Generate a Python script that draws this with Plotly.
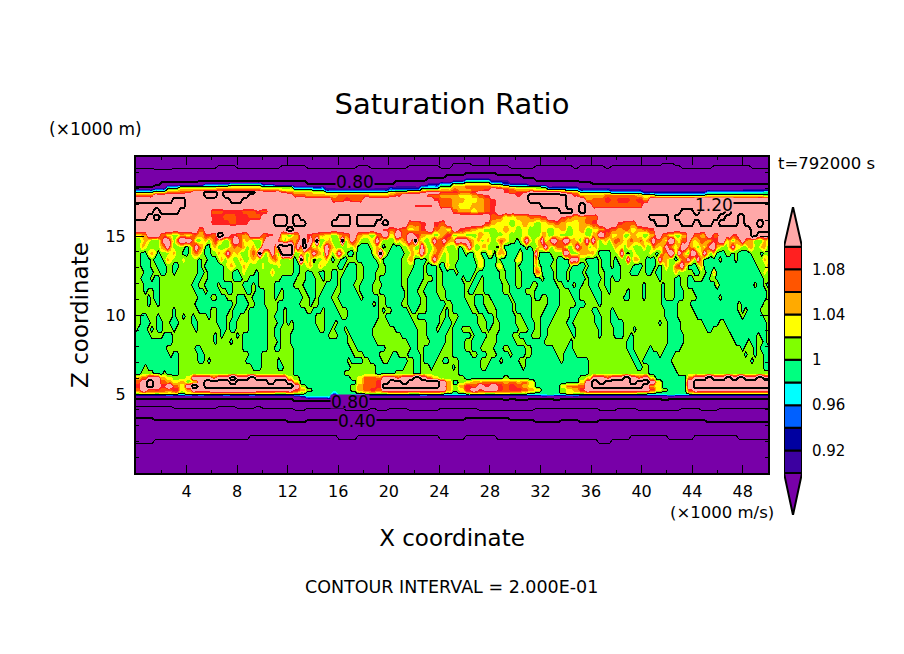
import numpy as np
import plotly.graph_objects as go

# Saturation ratio, coded one letter per grid cell
CODE_VALUES = {
    "a": 0.05, "b": 0.10, "c": 0.15, "d": 0.20, "e": 0.25, "f": 0.30, "g": 0.35, "h": 0.40, "i": 0.45,
    "j": 0.50, "k": 0.55, "l": 0.60, "m": 0.65, "n": 0.70, "o": 0.75, "p": 0.80, "q": 0.85,
    "P": 0.88, "I": 0.91, "N": 0.93, "B": 0.95, "C": 0.97, "G": 0.99, "L": 1.01, "Y": 1.03,
    "O": 1.05, "R": 1.07, "S": 1.09, "K": 1.14, "W": 1.25,
}

x_km = np.linspace(0, 50, 200)

z_km = [20.0, 19.6, 19.3, 19.0, 18.7, 18.5, 18.3, 18.1, 17.9, 17.75, 17.55, 17.3, 16.9, 16.55, 16.2, 15.8,
        15.4, 15.05, 14.7, 14.3, 13.9, 13.5, 13.1, 12.7, 12.3, 11.9, 11.5, 11.1, 10.7, 10.3, 9.9, 9.5,
        9.1, 8.7, 8.3, 7.9, 7.5, 7.1, 6.7, 6.3, 6.0, 5.75, 5.5, 5.25, 5.05, 4.95, 4.8, 4.6,
        4.4, 4.1, 3.75, 3.35, 2.9, 2.1, 1.35, 0.0]

# z 20 to 15.05, 100 cells across
upper_rows = [
    "jjjjjjjjjj jjjjjjjjjj jjjjjjjjjj jjjjjjjjjj jjjjjjjjjj jjjjjjjjjj jjjjjjjjjj jjjjjjjjjj jjjjjjjjjj jjjjjjjjjj",
    "kkkkkkkkkk kkkkkkkkkk kkkkkkkkkk kkkkkkkkkk kkkkkkkkkk lllkkkkkkk kkkkkkkkkk kkkkkkkkkk kkkllkkkkk kkkkkkkkkk",
    "lllkkkllll lllmmmllll lllmmmmlll lllllmmlll lllmmmmmll mmmmmmmmml lllmmmmmml mmmmlmmmmm mmmmmmllll lmmmmmmlll",
    "nnnnnnnnnn nnnnnnnnnn nnnnnnnnnn nnnnnnnnnn nnnnnnnnoo oopppppooo oooonnnnnn nnnnnnnnnn nnnnnnnnnn nnnnnnnnnn",
    "oooooooooo oooooooooo oooooooooo oooooooooo oooooppppq qqPPPPPqqq qppppppooo oooooooooo oooooooooo oooooooooo",
    "oooooooooo pppppppppp pppppppppo oooooooooo opppppqqqq IICCCCIIIq qqqppppppp oooooooooo oooooooooo oooooooooo",
    "ooooqqqqqq qNNNNCCCCC IIqqqqqppp pppppppppp pqqqqqIICC LLYYYYGGNI IIqqqqqqqq qqpppppppp pppppppppp pppppppppp",
    "pppqqCCLLL LLLYYYYYYY LLLLLNNNNN PPPPPPPPPP IIIIICCCLL OORRRRROOY LLLLGIIIII PPPPPPPPPP qqqqqqqqqq qqqqqqqqqq",
    "NNNCCYYOOO RRRRRRRRRR OOOYYLLLGG NNNNNNNNNN CCCCCYYYOO ROORRSKKSR OOOYYLLLGG NNNNNIIIII PPPPPPPPPP IIIIIINNNN",
    "LLLYYRRRSK KWWKWWWWWK KKKSROOOYY LLLLLLLLLL YOORRSKKSS SRRSKKKKSR SSKKKKKSRO LLLLLCCCCC NNNNNNNNNN CCCCCCCCCG",
    "RRRKKKKKKK KWWKWWWWKK KKKKKRROOO OORRRRROOO RSKKKKRROO OYYORSKKKK SKWWWWWWKS OOOORRRRRO YYLLLLLLLL YYYYYYYYYL",
    "KKKKKKWWKK KKKKKWWKKK KKKKKKKKKK KRRSRRKKKK KKKKKKKSRR OOYYORSKKK KKWWWWWWKK KORRSRSSRS OKKKKKKKKK KKKKKKKKKK",
    "WWWWWWWWKK KKKKKKKKKK KKKKKKKKKK KKKKKKKKKK KKKKSSSKRR OYYOORSKKK KKKKWWWWKK WKRRRRRRRR KKKKKKKKKW WWKWWWWWWW",
    "WWWKWWWKKK KKRRSSSRRS RKKKKKKKKK KKKKKKKKKK KKKKKKKKKK ROOYORSKKK KKKKKKKWWK WKKKKKKKKK KKKKKKWWKW WWWKWWWWWW",
    "WWKWKKKKKK KKSSRRSSRR KKWWKWKKKK KKWWKWWWWK KKKKKKKKKK KKKKKKRRYY OORRSKKSRO ORRKKKKKKK KWWWKWWWWW WWKWWKWWWW",
    "KKKKKKKKKK KKSSSRSSKK KKWWKWWKKK KWWWKWWWKW KKKRRSKSRK KKKKKSOYYL YOYLYOROYY ORSKKKSRRK KKWWKKWWKW WKWWWKWWKW",
    "KKKKKKKKKK RKKKKKKKKK KKKKWKKKKK KKKKKKKKKS RSRYOSKROY KSROYLLYOY LYLLYLYOLY OLYOSRORYO RSKKKKKKKK KKKKKKKWWW",
    "YOKKRYLOYR OSRWKSROKK RSKYLOKSRO YLORKOYLRK YKRKSOYLOS LYLLOYLLYL LYLLOLYLLY YLOKRYOLOY LOKRYLOKRO KRKKSKKWKK",
]

# z 14.7 to 6.3, the streaky layer, 200 cells across in four blocks of 50
streak_west = [
    "LLYOYLLLRK KRLRKKKKRL LYOLOSOYLL RKKRYOYLLL OKKKKROLOR",
    "LLOYLLLLOR KOLLLLGLRK ROGGYOLLLL OROROLYOLL KKKKOWWWWW",
    "LLGGYOYGLL LYOLLGGLOR OLGGLLOYOK OYOLLLOROW OLOKOLWWWW",
    "LLGGGLGGGL OYLLLYLLLL GLLGGGLOLY YLLOLLYOYL LLYORYLLLL",
    "LLGGGLLGGG LLGGLLLLLL GLGGGGGGLY OYLLOYLLLL YLLLLYLLLL",
    "LLLGGGLLGG LLGLLLLLLL GGLGGGGGLL LGGLYLLLGL LLLOLLLLLL",
    "LLGGGLGGLL LLLLLLLLLG GLLGGGGGLL LGGGLLGGGL LLLLLLGGGG",
    "LLLGGGGGLL LLLLLLLLGG LLGGGGLGGG GLLLGGGLGL LLLLGGGGGG",
    "LLLGLLGGLL LLLLLLLLLG GGLGGGGLLG GLLLLGGLGG GLLLGGLGGG",
    "LLLLGLGGLL LLLLLLLLLL GGGGLLGGGL LLGGGLLGGG GLLLGLLGGG",
    "LLLLGLLGLL LLLLLLLLLG GGGGGGGGGG GLGGGGLLGG GLLLLGGGGG",
    "LLLLLLLLLL LLGLLLLLLL GGGGLLGGGG LGGGGLGGGG GGLLLGGLGG",
    "LLGGLLLGLL LLGLLGLLGL LLLGLLGGGL LGGLLLGGGG GGLLGGGLGG",
    "LLGGGLLGGL LGGGLLLLGG LLLLLLGGGL GGLLLLGGGG GGLLLGGLGL",
    "LGGGLGLGGL LLGLLLLLLG LLLLLLLGGL GGLLLLGGGG GGLLGGLLLL",
    "GGGGGLLLLG GGLLLLLLLL LLLLLGLGLL LLGLGGGGGG GGLLGGLLLG",
    "GGGGGGGGGG GGLLLLLLLL LLLLLGLLLL GLLLGGGGGG GGLLLGLLLG",
    "GGGGGGGGGG LLLLLLLLLG GLLLLLLLLL LLLLGGGGGG GGLLGGLLLL",
    "GGGGGGGGGG GLGGLLLLLL GGLLLLLLLL LLLLLLGGGG LLLLLLLLLL",
    "GGGGGGGGGG GGGGLLLLLL GGLGLLLLLL LLLLLGGGGG LLLLLGLLLL",
    "GGGLGGGGGG GGGGLLLLLL LLLLLLLLLL LLLLLLLGGG LLLLLGGLLL",
    "GGLLLLGGGL GGGGLLLLLL LLLLLLLLLL LLLLLLLLLL LLLLLLLLLL",
]
streak_midwest = [
    "ORKWRKOWLL YOLLLWLOKR OLLLYOKOLL LLOYORKRWO YLLOKRRKRO",
    "OKRWKRLOLO KROLLLLYLO GGGGLYOLGL LGGGLLOOLL KOLLORROLL",
    "LLYOLOKROL KOLOKOLGGL GGGGGYOWOL GGGGGLLOYO KOLYOROLYL",
    "GLWYLOGLLY OLGLLGGLLL GGGGGGLYGG GGGGLLOOGG GGLOKOLLYL",
    "GGLLYOLLOY LLLLGGLGGG LLGGGGGLLG GGGGLLLLGG GLGGGLGGOL",
    "GGLLGGLLGG LLGGLLGGGG LLGGGGLLLG GGGGLLLGGG GLGGGLLGGG",
    "GLLLGGGLLG LLGGLGGGGG LLGGGGLGGG GGGGLLGGGG GLLLGLLGGG",
    "LLLGGGGLLL GGGGLGGGGL LGGGGLLLGG GGGGLLGGGG LLGGGLLGGG",
    "GGLLGGGLLG GGGLLGGGGG LGGGGLLGGG GGGGGLGGGL LGGGGLLLGG",
    "GGGLLGGLGG GGLLGGGGGG GLGGGGGLLG GGGGGLGGGG LLGGGGLLGG",
    "GGLLLGLLGG GGGLLGGGGG GGGGGLGLLG GGGGLLGGGG LLGGGGGGLL",
    "GGGGLLGGGL GGGGLLLGGG GGGGGGGLGL LGGGGGLGGL LLGGGGGLGL",
    "GGGGGGGLLL GGGGGLLGGG GGGGGGGLLG GGGGGGGLLG GGGGGGLLGL",
    "GGGGGGGLLL GGGLGGGGGG GGGGGGLLLL GGGGGGGGLL LLGGGGLGGG",
    "GGGGGGGGLL GGLGGGLGGG GGGGGLLLLL LLGGGGGGGL LLGGGLGGGL",
    "GGGGGGGGGG GLLLGGGLGG GGGGGLLLLL LLLLGGGGGL LLGGGGGGLL",
    "GGGGGGGGGG GGGGGGGLLG GGGGGGLLLL LLLLLLGGGL LLLGGGGGLL",
    "GGGGGGGGGG GGGGGGGGLL GGGGGGGGGL LLLLLLLGGL LGGGGGGLLL",
    "GGGGGGGGGG GGGGGGGGGL LLGGGGGLLL LGGLLLGGGG LGGGGGLLLL",
    "GGGGGGGGGG GGGGGGGLGG GGLLGGGGLL GGGGGGLLGG LGGGGLLGGL",
    "GGGGGGGGGG GGGGGGGGLL LLLLLLGGGG GGGGGLLLGG LLLGLLLLLL",
    "GGGGGGGGGG GGGGGGLLLL LLLLLLGGGG GGLLLLLLGG LLLLLLLLLL",
]
streak_mideast = [
    "OKKKKROYOL YOLLOROYLL GLOKOLYOKL OKKRRKKOOY LOKOKOLYOL",
    "LYGLOKOLLO OLLLGOGGGG GGGLGLLOOK OLORROLLOK ROOLYOLLLL",
    "LLGGLGGYYG GYYGOOOGGG GYGGGGKGGG GLLLLKKLLL OOOOOLGGGG",
    "LLGGGGGLYY GGGGLGGGGG YYGGGGRGGG GGLGGGGKKK LLGGGGLGGG",
    "LGGGGGGGYY GGGGYYGGGG LGGGGGOLGG GLLGGGGLGG GGLGGGLGGG",
    "GLGGGGGLGG GGGGGLLGGG LLGGGGRRGG GGLGGGLGGG GLGGGGLLGG",
    "GGGLGGLGGL GGGGGLLGGG LLGGGGGGLG GGLGGGLGGG GGLGGGGLGG",
    "GGGGLLGGLL GGGGGGLLGG LLGGGLLGGG GGGLLGGGLG GLLGGGLLGG",
    "GGGGLGGLLL GGGGGGLLGG GGGLLLGGGG GGGGLLLGGG LLLLGGGLLG",
    "GGGGLLLGGG LLGGGGGGLG GGGGGLGGLL GGGGLLLLGG LLLLLGGLLL",
    "GGGGGLLGGG LLLGGGGGGL GGGGGLLLLL GGGGLLLLLG GGLLLLGLLL",
    "GGGGGGLLGG GLLLGGGGGL GGGGGLLLLG GGGLLLLGGG LLLLGGLLLL",
    "LLGGGGGGLL GGGLGGGGGG LLGGGLLLGG GGLLLLLGGL LLLLLGGLLL",
    "LGGGGGGGLL LGGLLGGGGG LLLGGGLLGG GLLLLLGGLL LLLLLGGLLL",
    "GGGLLLGGGL LGLLLGGGGG GLLLGGLLGG LLLLLLLGGL LLLLLLGLLL",
    "GGGGGGLGGG GLLLGGGGGL LGGGGLLLGG LLLLLLLLGL LLLLLLGLLL",
    "GGGGLLGGGG LLLLGGGGGG LLLGGGGGGL LLLLLLLGLL LLLLLLLLLL",
    "GGGGLLGGGL LLLGGGLLGG GGGLLGGGGG GGLLLLGGLL LLLLLLLLLL",
    "GGGGGGLLGG GLLLGGGGLG GGGLLGGGGG GGGLLGGGGL LLLLLLLLLL",
    "LLGGGGGGGL LLGGGLGGGG GLLGGGGGGG GGGGLGGGGG GGGLLLLLLL",
    "GLGGGGGGGL LGGGGGGGGG GGLGGGGGGG GGGGGGGGGG GGGLLLLLLL",
    "LLGGGGGGGG GGGGGGGGGG GGGGGGGGGG GGGGGGGGGG GGGLLLLLLL",
]
streak_east = [
    "ORROYOROOR YORKRROYKK OYRRKOYORR OOSSKKYOLO RKROOLLLOY",
    "LOYYLOYLLL OLLROYOKRO YOKKROYLOY RKKOYLLOKY YLLOOLLOOL",
    "LLYKLGLYLL LLYLGLROKK LKRYLKKOYK OLOGGGLLGL GGGGLLLGLL",
    "LGLLLKLOOL LGGGLKOOLL GLRRKOLKOG GGGGLGGGGL GGGGGLLLOY",
    "LGGLLLLGGG LGGGLGLOLL RSKOGGGLOG GGGGGGGGGG GGGGGGLLLO",
    "GGGLLLGGGL LGGLGGLLLL OLLLLLGGLL GGOGGGGGGG GGGGGGGLYL",
    "LGGLLLLLLL LLLLLGLLLL GGLLGGLLLG GLLGGGGGGG GGGGGGGGLL",
    "LLLLLLLLLL GLLLLLGLLL GGLLGGGGGG GGGYGGGGGG GGGGGLGGLG",
    "LLLLLGLLLL GLLLLLGLLL GGGLLLGGGG GGGGGGGGGG GGGGGGGGGL",
    "LLLLGGLLLL GLLLLLGLLL GGGLLLLGGG GGGGLGGGGG GGGGGGGGGL",
    "LLLLLLLLLL LLLLLLGGGG GLLLLGGGGG GGGGGGGGGG LGGGGGGGLL",
    "GLLLLLLLLL LLLLLLLGGG GLLLLLGGGG GGGGGGGGGG LGLGGGGLLL",
    "GGLLLLLLLL LLLLLLLGGG GLLLLLLGGG GGGGGGGGGG GLGGGGGGLL",
    "GGGGLLLLLL LLLLLGLLGG GGLLLLLLLG GGGGLLGGGG GGGGGGGGGL",
    "LGGGLLLGLL LLLLLLLLGG GGLLLLLLLL GGLLLLLGGG GGGGGGGGGL",
    "LGGGLLGLLL LLLLLLLLGG GGGLLLLLLL LLLLLLLLGG GGGGGGLGGL",
    "LLLLLGGLLL LLLLLLLLGG GGGLLLLLLL LLLLLLLLLG GGGLGGLLGL",
    "LLLLLGGLLL LLGLLLLGGG GGLLLLLLLL LLLLLLLLLL LGLLLGLGGG",
    "LLLLLLGGLL LGGGGLGGGG LLLLLLLLLL LLLLLLLLLL LLGLLGLLGG",
    "LLLLLLLGGL GGGGGGGGGL LLLLLLLLLL LLLLLLLLLL LLLLGLLLGG",
    "LLLLLLLLGG LLGGGGGGGG LLLLLLLLLL LLLLLLLLLL LLLLLLLLGG",
    "LLLLLLLLLL LLGGGGGGGG GLLLLLLLLL LLLLLLLLLL LLLLLLLLLL",
]

# z 6 down to the ground, 100 cells across
lower_rows = [
    "ORKKOYLLYK KKSKKWKKWK KKKKYLGGGG GGGGLYRRRK KSKKWKRYLL LLGGGGGGLG GGGGGGGGGG LYKKSKKWKS KYGGGGGRKK WKKWKWKKWK",
    "RKWKROYOLY KWWWWKWWWW WKWWKYGGGG GGGGGYRRSK WWKWWWWWKO GLYOORRROR ORYGGGGGGG YKWKWWWWKW WKYGGGGKWW WWWWWWWWWW",
    "SKWKSKRYKW KWWWWWWWWW WWWWWKLGGG GGGGLORRSW WWWWWWWWKO LOSRKSKSRS ROYGGGGYRR RKWWWWWWWW KOYGGGGKWW WWWWWWWWWW",
    "RKRSRRSYOK KKKKKKKKKK KKKKKSOLGG GGGGLORSRK KKKKKKKKKO LYSKSKKSRS SROYGGGLYO SKKKKKKKKK KSYLGGGSKK KKKKKKKKKK",
    "YOOYOYOLYO OORRRRRRRO OOYYOYLGGG GCGGGLYYYY OOOYYOOOYL GLYOOYYOOY YYLGGGGLYY YOOOOOOOOY YLGGGGGYOO OOOOOOOOOO",
    "CCCCCGCCGC GCCCGCCCGC CCCCCCGGGG GNGGCCCCCC CCCCCGCCCC CCCCCCCCCC CCCCCGCCGC CCCCCCCCCC CCCCGCCCCC CCCCCCCCCC",
    "qqqqqqqqqq qqqqqqqqqq qqqqqPICCC CIqqqqqqqq qqqqqqqqqq qqqqqqqqqq qqqqPqqqqP qqqqqqqqqq qqqqPqqqqq qqqqqqqqqq",
    "oooooooooo oooooooooo oooooqqqqq qqoooooooo oooooooooo oooooooopo ppoooopooo oooooooooo ooopoooooo oooooooooo",
    "nnnnnnnnnn nnnnnnnnnn nnnnnnnnnn nnnnnnnnnn nnnnnnnnnn nnnnnnnnnn nnnnnnnnnn nnnnnnnnnn nnnnnnnnnn nnnnnnnnnn",
    "kkkkkkllll lllkkklllk lllllmmlll lllmmmmlmm lllmmmmmll llllmmmmmm mmmlllllll lllmmmlllm mmmmmmlllm mmllllllll",
    "jjjjjjjjjj jjjjjjjjjj jjjjjjjjjj jjjjjjjjjj jjjjjjjjjj jjjjjjjjjj jjjjjjjjjj jjjjjjjjjj jjjjjjjjjj jjjjjjjjjj",
    "ggghhhhhhh hhhhhhhhhh hhhhiiihhh hhhhhhhhhh hhhhhhhhhh hhgggggggh hhhiiiihhh iiihhhhhhh hhhhhhhhhh iiiiiiiiii",
    "ffffffffff ffffffffff ffffffffff ffffffffff ffffffffff ffffffffff ffffffffff ffffffffff ffffffffff ffffffffff",
    "eeeddddddd ddddddddcc cccccccccc ccdddccccc ccccccccdd ddcccccddd dddddddddd dddeedddcc ccccddddcc cccccddddd",
    "bbbbbbbbbb bbbbbbbbbb bbbbbbbbbb bbbbbbbbbb bbbbbbbbbb bbbbbbbbbb bbbbbbbbbb bbbbbbbbbb bbbbbbbbbb bbbbbbbbbb",
    "aaaaaaaaaa aaaaaaaaaa aaaaaaaaaa aaaaaaaaaa aaaaaaaaaa aaaaaaaaaa aaaaaaaaaa aaaaaaaaaa aaaaaaaaaa aaaaaaaaaa",
]

# colour key: one colour below 0.90, ten 0.02 bands, one colour above 1.10
band_edges = [0.90, 0.92, 0.94, 0.96, 0.98, 1.00, 1.02, 1.04, 1.06, 1.08, 1.10]
band_colors = ["#7800A8", "#3C00A0", "#0000A0", "#0060FF", "#00FFFF", "#00FF80",
               "#80FF00", "#FFFF00", "#FFAA00", "#FF5500", "#FF2020", "#FFA8A8"]
key_ticks = [0.92, 0.96, 1.00, 1.04, 1.08]
key_labels = ["0.92", "0.96", "1", "1.04", "1.08"]

x_ticks = [4, 8, 12, 16, 20, 24, 28, 32, 36, 40, 44, 48]
z_ticks = [5, 10, 15]


def coarse(row):
    # a 100 cell row, each cell spans two columns of the grid
    return "".join(c * 2 for c in row.replace(" ", ""))


rows = [coarse(r) for r in upper_rows]
for w, mw, me, e in zip(streak_west, streak_midwest, streak_mideast, streak_east):
    rows.append((w + mw + me + e).replace(" ", ""))
rows += [coarse(r) for r in lower_rows]

grid = np.array([[CODE_VALUES[c] for c in r] for r in rows][::-1])
z_axis = z_km[::-1]

# stepped scale so every contour band gets a flat colour
n = len(band_colors) - 1
scale = []
for i, col in enumerate(band_colors):
    lo = max(0, (i - 0.5) / n)
    hi = min(1, (i + 0.5) / n)
    scale.append([lo, col])
    scale.append([hi, col])

fig = go.Figure()

fig.add_trace(go.Contour(
    x=x_km, y=z_axis, z=grid,
    contours=dict(coloring="fill", start=0.90, end=1.10, size=0.02),
    colorscale=scale, line=dict(width=0), showscale=False,
))
# GrADS style lines every 0.2, alternate ones heavier
fig.add_trace(go.Contour(
    x=x_km, y=z_axis, z=grid,
    contours=dict(coloring="none", start=0.2, end=1.0, size=0.4),
    line=dict(color="black", width=1, smoothing=0), showscale=False,
))
fig.add_trace(go.Contour(
    x=x_km, y=z_axis, z=grid,
    contours=dict(coloring="none", start=0.4, end=1.2, size=0.4),
    line=dict(color="black", width=2, smoothing=0), showscale=False,
))

# colour key on its own small axes
for i in range(len(band_edges) - 1):
    fig.add_trace(go.Bar(
        x=[0], y=[band_edges[i + 1] - band_edges[i]], base=[band_edges[i]], width=[1],
        marker=dict(color=band_colors[i + 1], line=dict(color="black", width=2)),
        xaxis="x2", yaxis="y2", showlegend=False,
    ))
for col, tip, edge in [(band_colors[-1], 1.135, band_edges[-1]), (band_colors[0], 0.863, band_edges[0])]:
    fig.add_trace(go.Scatter(
        x=[-0.5, 0, 0.5, -0.5], y=[edge, tip, edge, edge], mode="lines", fill="toself",
        fillcolor=col, line=dict(color="black", width=2),
        xaxis="x2", yaxis="y2", showlegend=False,
    ))

FONT = "DejaVu Sans"


def note(text, px, py, size):
    return dict(text=text, x=px / 904, y=1 - py / 654, xref="paper", yref="paper", showarrow=False,
                xanchor="center", yanchor="middle", font=dict(size=size))


def line_label(text, x, y, bg):
    return dict(text=text, x=x, y=y, xref="x", yref="y", showarrow=False, bgcolor=bg,
                font=dict(size=17), borderpad=0, height=13, valign="middle")


fig.update_layout(
    width=904, height=654, margin=dict(l=0, r=0, t=0, b=0),
    paper_bgcolor="white", plot_bgcolor="white", showlegend=False, barmode="overlay",
    font=dict(family=FONT, color="black", size=16),
    title=dict(text="Saturation Ratio", x=452 / 904, xanchor="center", y=1 - 104 / 654, yanchor="middle",
               font=dict(size=29, family=FONT)),
    xaxis=dict(domain=[136 / 904, 768 / 904], range=[0, 50], tickvals=x_ticks, ticks="inside", ticklen=8,
               tickwidth=1, tickcolor="black", mirror="ticks", showline=True, linecolor="black", linewidth=2,
               showgrid=False, zeroline=False, ticklabelstandoff=3, tickfont=dict(size=16),
               minor=dict(dtick=2, ticks="inside", ticklen=3, tickcolor="black", showgrid=False),
               title=dict(text="X coordinate", font=dict(size=23), standoff=30)),
    yaxis=dict(domain=[181 / 654, 497 / 654], range=[0, 20], tickvals=z_ticks, ticks="inside", ticklen=8,
               tickwidth=1, tickcolor="black", mirror="ticks", showline=True, linecolor="black", linewidth=2,
               showgrid=False, zeroline=False, ticklabelstandoff=5, tickfont=dict(size=16),
               minor=dict(dtick=1, ticks="inside", ticklen=3, tickcolor="black", showgrid=False),
               title=dict(text="Z coordinate", font=dict(size=23), standoff=10)),
    xaxis2=dict(domain=[784 / 904, 802 / 904], range=[-0.5, 0.5], visible=False, anchor="y2"),
    yaxis2=dict(domain=[139 / 654, 447 / 654], range=[0.863, 1.135], side="right", anchor="x2",
                tickvals=key_ticks, ticktext=key_labels, ticks="outside", ticklen=6, tickcolor="rgba(0,0,0,0)",
                showgrid=False, zeroline=False, showline=False, tickfont=dict(size=15)),
    annotations=[
        line_label("0.80", 17.3, 18.45, band_colors[0]),
        line_label("0.80", 16.9, 4.5, band_colors[0]),
        line_label("0.40", 17.5, 3.3, band_colors[0]),
        line_label("1.20", 45.7, 17.0, band_colors[-1]),
        note("(×1000 m)", 95, 129, 17),
        note("(×1000 m/s)", 722, 512, 16.5),
        note("t=792000 s", 826, 163, 16.5),
        note("CONTOUR INTERVAL = 2.000E-01", 451, 587, 17.5),
    ],
)

# page edge to edge, hard edged contours like the original raster
crisp = ("document.body.style.margin='0';"
         "var s=document.createElement('style');"
         "s.textContent='.contour path{shape-rendering:crispEdges}';"
         "document.head.appendChild(s);")
fig.write_html("out.html", post_script=crisp, config=dict(displayModeBar=False))
